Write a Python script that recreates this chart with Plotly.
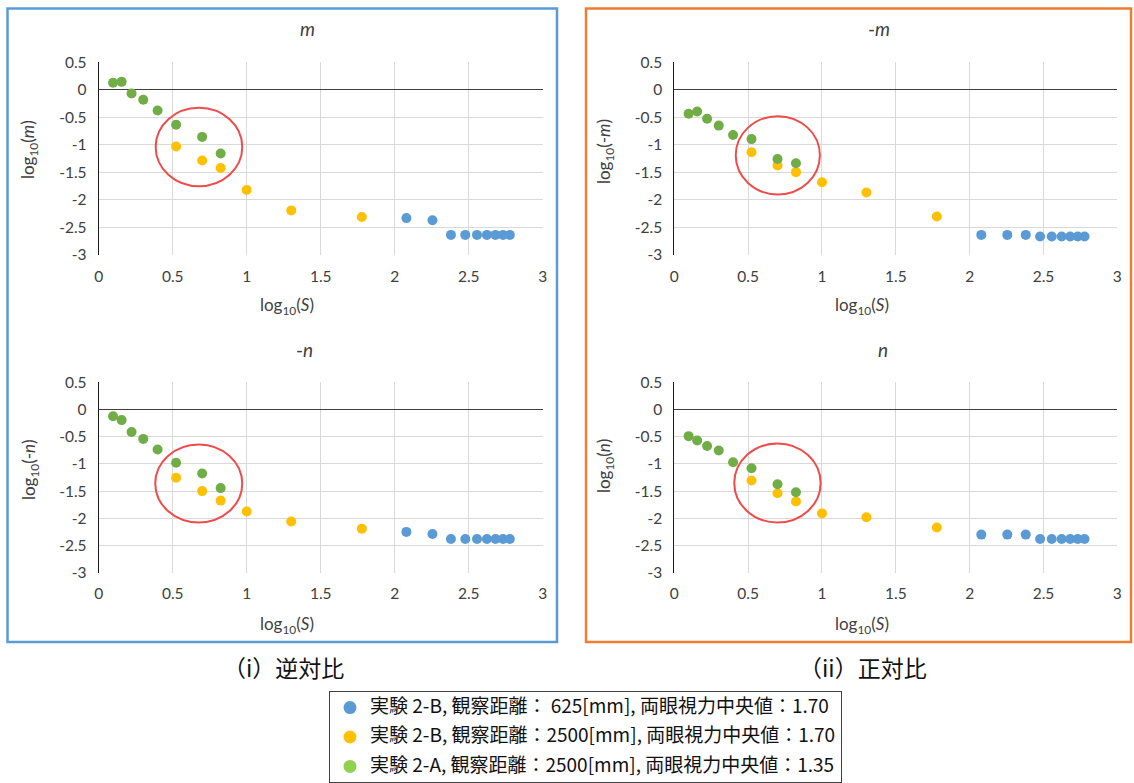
import plotly.graph_objects as go

# ---------------- data ----------------
x_ticks = [0, 0.5, 1, 1.5, 2, 2.5, 3]
x_tick_labels = ["0", "0.5", "1", "1.5", "2", "2.5", "3"]
y_ticks = [0.5, 0, -0.5, -1, -1.5, -2, -2.5, -3]
y_tick_labels = ["0.5", "0", "-0.5", "-1", "-1.5", "-2", "-2.5", "-3"]

series_names = [
    "実験 2-B, 観察距離： 625[mm], 両眼視力中央値：1.70",
    "実験 2-B, 観察距離：2500[mm], 両眼視力中央値：1.70",
    "実験 2-A, 観察距離：2500[mm], 両眼視力中央値：1.35",
]

blue_x = [2.079, 2.255, 2.380, 2.477, 2.556, 2.623, 2.681, 2.732, 2.778]
yellow_x = [0.523, 0.699, 0.824, 1.0, 1.301, 1.778]
green_x = [0.097, 0.155, 0.222, 0.301, 0.398, 0.523, 0.699, 0.824]

panel_titles = ["<i>m</i>", "-<i>m</i>", "-<i>n</i>", "<i>n</i>"]
y_titles = ["log<sub>10</sub>(<i>m</i>)", "log<sub>10</sub>(-<i>m</i>)",
            "log<sub>10</sub>(-<i>n</i>)", "log<sub>10</sub>(<i>n</i>)"]
x_title = "log<sub>10</sub>(<i>S</i>)"

# panel order: top-left (m), top-right (-m), bottom-left (-n), bottom-right (n)
blue_y = [
    [-2.33, -2.37, -2.635, -2.635, -2.635, -2.635, -2.635, -2.635, -2.635],
    [-2.635, -2.635, -2.635, -2.665, -2.665, -2.665, -2.665, -2.665, -2.665],
    [-2.25, -2.29, -2.38, -2.38, -2.38, -2.38, -2.38, -2.38, -2.38],
    [-2.30, -2.30, -2.30, -2.38, -2.38, -2.38, -2.38, -2.38, -2.38],
]
yellow_y = [
    [-1.03, -1.285, -1.42, -1.82, -2.19, -2.31],
    [-1.135, -1.375, -1.495, -1.68, -1.865, -2.30],
    [-1.255, -1.50, -1.675, -1.875, -2.06, -2.19],
    [-1.305, -1.54, -1.69, -1.91, -1.98, -2.17],
]
green_y = [
    [0.13, 0.145, -0.065, -0.18, -0.375, -0.635, -0.855, -1.155],
    [-0.435, -0.395, -0.525, -0.65, -0.82, -0.895, -1.255, -1.335],
    [-0.125, -0.195, -0.415, -0.54, -0.735, -0.98, -1.175, -1.445],
    [-0.49, -0.57, -0.67, -0.755, -0.97, -1.08, -1.375, -1.52],
]

# highlighted regions (red ellipses), data units: x0, x1, y0, y1
highlight = [
    [0.385, 0.970, -1.75, -0.327],
    [0.416, 0.986, -1.90, -0.478],
    [0.382, 0.970, -2.077, -0.643],
    [0.406, 0.991, -2.077, -0.625],
]

captions = ["（i）逆対比", "（ii）正対比"]

# ---------------- styling ----------------
W, H = 1134, 783
BLUE, YELLOW, GREEN = "#5B9BD5", "#FFC000", "#70AD47"
LEG_GREEN = "#92D050"
TXT = "#404040"
FONT = "Lato"
JP = "Noto Sans CJK JP"


def px_x(p):
    return p / W


def px_y(p):
    return 1 - p / H


# plot areas in pixels: (left, right, top, bottom)
areas = [
    (98.7, 542.7, 62.3, 255.0),
    (674.3, 1117.3, 62.3, 255.0),
    (98.7, 542.7, 382.3, 572.7),
    (674.3, 1117.3, 382.3, 572.7),
]

fig = go.Figure()
layout = dict(
    width=W, height=H, margin=dict(l=0, r=0, t=0, b=0, autoexpand=False),
    paper_bgcolor="white", plot_bgcolor="white",
    font=dict(family=FONT, size=15, color=TXT),
    showlegend=True,
)

tick_font = dict(family=FONT, size=15.5, color=TXT)

for i, (l, r, t, b) in enumerate(areas):
    n = "" if i == 0 else str(i + 1)
    layout["xaxis" + n] = dict(
        domain=[px_x(l), px_x(r)], range=[0, 3], anchor="y" + n,
        tickvals=x_ticks, ticktext=x_tick_labels, showgrid=True,
        gridcolor="#D9D9D9", gridwidth=1, zeroline=False, showline=False,
        ticks="", tickfont=tick_font, ticklabelstandoff=10, fixedrange=True,
        automargin=False,
    )
    layout["yaxis" + n] = dict(
        domain=[px_y(b), px_y(t)], range=[-3, 0.5], anchor="x" + n,
        tickvals=y_ticks, ticktext=y_tick_labels, showgrid=True,
        gridcolor="#D9D9D9", gridwidth=1, zeroline=True,
        zerolinecolor="#404040", zerolinewidth=1,
        showline=True, linecolor="#1a1a1a", linewidth=1,
        ticks="", tickfont=tick_font, ticklabelstandoff=8, fixedrange=True,
        automargin=False,
    )
    xa, ya = "x" + n, "y" + n
    for xs, ys, c in [(blue_x, blue_y[i], BLUE), (yellow_x, yellow_y[i], YELLOW),
                      (green_x, green_y[i], GREEN)]:
        fig.add_trace(go.Scatter(
            x=xs, y=ys, mode="markers", xaxis=xa, yaxis=ya,
            marker=dict(color=c, size=10, line=dict(width=0)),
            showlegend=False, hoverinfo="x+y",
        ))

# legend entries
for name, c, g in zip(series_names, [BLUE, YELLOW, LEG_GREEN], ["a", "b", "c"]):
    fig.add_trace(go.Scatter(
        x=[None], y=[None], mode="markers",
        name='<span style="font-size:19px">' + name + "</span>", legendgroup=g,
        marker=dict(color=c, size=13), showlegend=True,
    ))

layout["legend"] = dict(
    x=px_x(329), y=px_y(691), xanchor="left", yanchor="top",
    bgcolor="white", bordercolor="#404040", borderwidth=1,
    font=dict(family=JP, size=14, color="#111111"),
    tracegroupgap=8.2, itemclick=False, itemdoubleclick=False,
)

shapes = []
# panel frames
shapes.append(dict(type="rect", xref="paper", yref="paper",
                   x0=px_x(7.5), x1=px_x(557), y0=px_y(642), y1=px_y(8.5),
                   line=dict(color=BLUE, width=2.5), layer="below"))
shapes.append(dict(type="rect", xref="paper", yref="paper",
                   x0=px_x(586), x1=px_x(1131), y0=px_y(642), y1=px_y(8.5),
                   line=dict(color="#ED7D31", width=2.5), layer="below"))
for i, (x0, x1, y0, y1) in enumerate(highlight):
    n = "" if i == 0 else str(i + 1)
    shapes.append(dict(type="circle", xref="x" + n, yref="y" + n,
                       x0=x0, x1=x1, y0=y0, y1=y1,
                       line=dict(color="#EF4B4B", width=2)))
layout["shapes"] = shapes

ann = []
title_pos = [(307, 29), (879, 29), (304, 349), (883, 349)]
for txt, (x, y) in zip(panel_titles, title_pos):
    ann.append(dict(text=txt, x=px_x(x), y=px_y(y), xref="paper", yref="paper",
                    showarrow=False, xanchor="center", yanchor="middle",
                    font=dict(family=FONT, size=19, color=TXT)))
ytitle_pos = [(29, 150), (605, 152), (30, 470), (605, 466)]
for txt, (x, y) in zip(y_titles, ytitle_pos):
    ann.append(dict(text=txt, x=px_x(x), y=px_y(y), xref="paper", yref="paper",
                    showarrow=False, xanchor="center", yanchor="middle",
                    textangle=-90, font=dict(family=FONT, size=17, color=TXT)))
xtitle_pos = [(287, 306), (862, 306), (287, 625), (862, 625)]
for (x, y) in xtitle_pos:
    ann.append(dict(text=x_title, x=px_x(x), y=px_y(y), xref="paper", yref="paper",
                    showarrow=False, xanchor="center", yanchor="middle",
                    font=dict(family=FONT, size=17, color=TXT)))
cap_pos = [(283, 667), (863, 667)]
for txt, (x, y) in zip(captions, cap_pos):
    ann.append(dict(text=txt, x=px_x(x), y=px_y(y), xref="paper", yref="paper",
                    showarrow=False, xanchor="center", yanchor="middle",
                    font=dict(family=JP, size=23, color="#111111")))
layout["annotations"] = ann

fig.update_layout(**layout)
fig.write_html("out.html", config={"displayModeBar": False},
               post_script="document.body.style.margin='0';")
